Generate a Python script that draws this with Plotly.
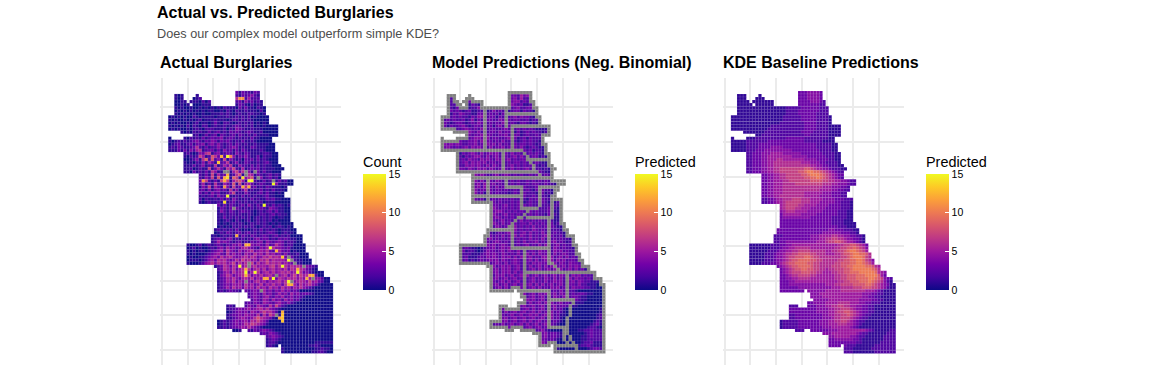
import plotly.graph_objects as go

W, H = 1152, 384
TITLE = "Actual vs. Predicted Burglaries"
SUBTITLE = "Does our complex model outperform simple KDE?"
PANEL_TITLES = ["Actual Burglaries", "Model Predictions (Neg. Binomial)", "KDE Baseline Predictions"]
LEGEND_TITLES = ["Count", "Predicted", "Predicted"]
COLORBAR_TICKS = [0, 5, 10, 15]
GRID_X = [-2.57, 5.86, 14.28, 22.7, 31.1, 39.6, 48.0]
GRID_Y = [4.75, 16.2, 27.6, 39.0, 50.4, 61.8, 73.1, 84.5]

# occupied fishnet columns in each row (row index = position in the list)
ROW_SPANS = [
 [(22,29)],[(2,4),(9,9),(22,29)],[(2,4),(8,10),(22,29)],[(2,5),(7,13),(22,30)],[(2,6),(8,13),(22,30)],
 [(2,31)],[(2,31)],[(2,31)],[(0,32)],[(0,32)],[(0,32)],[(0,35)],[(0,35)],[(4,35)],[(8,35)],
 [(0,0),(5,33)],[(0,33)],[(0,34)],[(0,34)],[(0,34)],[(5,35)],[(5,35)],[(5,35)],[(5,35)],[(5,36)],
 [(5,37)],[(5,36)],[(10,36)],[(10,36)],[(10,40)],[(10,40)],[(10,38)],[(10,38)],[(10,37)],[(10,37)],
 [(10,39)],[(10,39)],[(16,39)],[(16,39)],[(16,39)],[(16,39)],[(16,39)],[(16,39)],[(16,40)],[(16,40)],
 [(15,41)],[(15,41)],[(14,43)],[(14,43)],[(14,43)],[(6,44)],[(6,44)],[(6,44)],[(6,45)],[(6,45)],
 [(6,46)],[(6,46)],[(15,48)],[(16,48)],[(16,50)],[(16,50)],[(16,52)],[(16,52)],[(16,53)],[(16,53)],
 [(16,23),(25,53)],[(26,53)],[(26,53)],[(27,53)],[(25,53)],[(19,21),(25,53)],[(19,53)],[(19,53)],[(19,53)],[(19,53)],
 [(16,53)],[(16,53)],[(16,53)],[(21,23),(26,53)],[(30,53)],[(32,53)],[(32,53)],[(32,53)],[(32,35),(37,53)],[(37,53)],[(37,53)],
]

KDE = [
 "33344443","111133344443","11111133344443","11111111111333344432","11111111111333333322",
 "111111111111111122222333333222","111111111111111122223333333222","111111111111111122223333332222",
 "111111111111111112222223333322221","111111111111111112222223333322221","111111111111111122222222333322221",
 "111111111111122222222222333322221111","111111111111222222222222333322221111","11111112222222222223333222221111",
 "1122222222222222332222221111","111122222222223333332222222211","1111122222223333333333332222221111",
 "11111222233333333333333333332222211","11111222233334444333333333332222211","11111222333444444444333333333222211",
 "2233344455554444443333333222211","2233344555555554444433333322211","2233344555665555555444433332211",
 "2233344556666666665554443322221","22333445566666666666655443322211","223334455667777777788765544322211",
 "22333445566777777889aa9987654322","3344556677777889aaa98765433","334455667777778899a98765432",
 "3344555667777777888877665544322","3344555666677777777766655444322","33445556666666666666555444332",
 "33445556666666666665555443322","3344555666666655555544433322","3344556666666655555444433322",
 "223345566677766655554444333222","223345567777766655544444332221","567777665555444433332221",
 "567776655544444333332221","456665555444443333322211","355555544444333333322211","344444444433333332222211",
 "333333333333333332222111","3333333333333333322221111","3333333333333333333222111",
 "333333333333333334433322211","333333333333333444444333221","222333333333444555566554433221",
 "223333333333444556677665443321","223344444444445556778876554321",
 "111111122233445555555555555556677887653","111111122234455666665555555566778898764","111111222344556677776666655667789aa9875",
 "1111122234456677888877666555667889aa9986","1111122234456778889987766666667789aaa976",
 "11111222344567889999887766666778899aa9764","11112223345678899998877666667788899aa9875",
 "3456788999987766667778899aaaa99865","345678899887766566777889aaaaaa986","34567778887766555667788999aaaaa9654",
 "3345667777665555556677888999aaaa853","33445566665555555566778889999aa987432","33344555555555555556677888999a9876421",
 "33344444444444455566777788889987654311","33333344444444444555666677788877654211",
 "3333333344444455555666666665554321111","4445555555555555544433221111","4444555555555555544332211111",
 "444445555555555444433221111","33444455556666555443322211111","22233344455667766554433221111111",
 "33333333344445566777654433221111111","33333333344445567788765433221111111","22333333333445566778765432211111111",
 "22333333333444566777654322111111111","12222233333334445566776543221111111111","12222233333334445556665543211111111111",
 "12222233333333444555555432111111111111","2223333334445555555554321111122","444555555554322111111222",
 "4455555443221111112222","3344444433211111112222","3333333332211111122222","333332221111112222222",
 "22211111122222222","22211111112222222",
]

MODEL = [
 "23434453","232243325342","221124334252","12222134322134423234","12231213211243231123",
 "221322312241121232412234223312","132321231122312423231233132213","213243221133223231324213242322",
 "224232322132442233132323424332111","123232231241322332243132332231221","232123321232431232324223213321211",
 "231322342123323231342234232132221111","123232234323242233223423232323211111","22332432423233242332131232322122",
 "2323342332233422331232232211","2323223443242332234231231322","2334243223342433323242242123232211",
 "34343432233423343424232232332321211","43432323424343324233423232421232111","34232342323234323232332232232312211",
 "2132343242343423324232423232112","2213234432423424323424232331211","1232433243432432342323322321211",
 "2234243434233233232332323232111","32243434324243232342323233212111","233243243424323432423234232212111",
 "22342434342332433232323322132111","34343223423432323223232232322","23424432323232323323232232311",
 "3424233243242323223232323231211","2342423423232323223233223221211","33424232423232232322232232211",
 "24233232332322323232132322121","3423123232221232232221231211","3242322323232232132232322111",
 "232312232323232232132323221211","132112232322232321232223211121","233234232323232232223221",
 "243233232323232322232211","234432323232232322232111","343234232323232322132211","234323232322322312232111",
 "232342323242323232222111","2432423232332423232231211","1243232342323242323232111",
 "112323232423232432323222111","221232342323424232423232211","223232423342432423234232231121",
 "234232323423232423242423232211","232343232423242334232434232121",
 "122231112434234324232342324243234232211","123211012334234343423233242324243232211","231221012433234243242423324334243423221",
 "1222111234343243232423424243342423432221","2231112324343243424243342324434234242321",
 "22312123234342432343243424234342434233221","23211223242343242343243243433424243243321",
 "2342343423423242342424233424343221","234243423424234242342434234242311","23424342423423424234243424324332111",
 "2243423423424234234234243424342322111","23423423423423423243242423424332321111","23234242342423423242343423342432211110",
 "23423423423234242423423424332422111000","22342423423423424232434234243332211000",
 "2332342342423423424232423221000","3423424342342434232332110000","2423423424243243233211000000",
 "243423423424234323211000000","23424234243423423231110000000","232234234234243423321110000000",
 "23242342342423423242310000000000011","22423423423424232423210000000000012","23234234234342342423110000000000121",
 "23423423423423423423100000000000121","1232342342342423423423210000000000121","1232423423424234234232100000000001231",
 "2323423423423423423321000000000012210","2323423423421000000000112232","332342332100000001232",
 "2342332100000011232","2332321000000011222","2432210000000012231","232210000000122321",
 "11000000000123321","10000000001223221",
]

ACTUAL = [
 "31322132","101121323421","101012623252","00111110202231423121","00101000111132102011",
 "101001001010101021110313110210","010101010101100102102112111020","101010100100111212101211221101",
 "010101002101111011121121212010000","101001010120111211101221212100000","010100101201101310221012121201010",
 "101010202102201211211232121201010000","010100101210222111202143211211100000","10102121131231213232123211200000",
 "1201312303212313212131111000","0102121312323412321212131100","10121212342132431323212131121000",
 "01231123133413424212313212112111100","12132112362131224212343121132111000","11131314256123313142313132111121000",
 "1210143671341232142132111122100","1021275128631212413242113021100","0012416928241714212032313121000",
 "1010214153152361241132112123100","11131241216125361142213131211000","112012117136316472151232312111000",
 "11031213164112815736141231311000","21317152311268176513212312110","2142718253197134681241231201",
 "3172131727157851762113124131200","2513162153281714531232112411100","14271531241723461231213211101",
 "23141342316241361211312131110","3131423112471214211231311010","1212314225112131212112311000",
 "202112131314211213121132311000","101211213123121211212011100","313132123142131121312101",
 "132131321212123214321100","142132123221012123131100","112122121121012212312110","113121212120121212101100",
 "101210210120121212010000","1010121210121212101010000","0101021212121012120121010",
 "121212131010121312121011100","012132123123121212321012110","110121212132132123212312120000",
 "123213412121213423312132321100","125343212312132341432343122100",
 "100120121232132435232434325236431220000","012010012134253423564321435364432310000","101011012345264325345634546324532301000",
 "1010001234532635342543645364534242112000","0100112345364564345646534657565432311000",
 "01110124536564346475645365746555434211000","10001245646564573646573645756564543311000",
 "1236536464655645546746564656564321","236546356463564635645463656653210","12453645653546356464565645763421000",
 "1346534564635464564645635747564320000","1235464356463545646365465646465644200000","12354635464356453545646354565474532000",
 "12343545364534635464536465364564310000","12353645364536453645364535464321000000",
 "1212322132343253424353423200000","2343253423534253423321000000","2343245324352342321000000000",
 "243254253425342310000000000","23243254324532421000000000000","121243254326374210000000000000",
 "12234345345646432100000000000000000","01234342543575642000000000000000000","12334354436263753100000000000000000",
 "1123454346865431000000000000000000","01212343453657542000000000000000000000","01212343465765431000000000000000000000",
 "1121233454643210000000000000000000000","0012132343210000000000000000","232432100000000000000",
 "2343210000000000000","1232100000000000000","1221000000000000111","121000000000011210",
 "10000000000112110","10000000001122100",
]

# cells that stand out from the row strings: (row, column, count)
ACTUAL_HOT = [
 (2,23,11),(2,24,11),(21,19,15),(21,17,12),(21,20,10),(23,16,13),(29,26,15),(29,27,15),(28,19,14),(28,24,14),(30,34,15),
 (34,19,15),(36,18,14),(37,31,15),(28,18,12),(29,18,12),(27,19,12),(31,24,12),(31,26,12),(29,11,11),(31,18,11),
 (47,22,12),(51,33,15),(57,23,15),(59,25,15),(59,28,15),(61,34,15),(57,37,15),(55,39,15),(59,42,15),(62,39,15),(61,47,15),
 (50,25,12),(50,26,12),(60,25,12),(58,25,12),(54,37,13),(52,35,12),(58,42,12),(60,47,12),(60,46,12),(61,45,12),
 (61,31,12),(61,32,12),(63,40,12),(63,39,12),(72,37,12),(73,37,13),(74,37,13),(75,37,13),(74,36,12),
]
# grey (missing / above scale) cells of the actual panel: (row, column)
ACTUAL_NA = [(26,18),(26,19),(26,25),(26,28),(27,25),(28,29),(29,34),(38,21),(57,26),(60,35),(62,25),(65,30),
             (55,40),(56,41),(54,39),(62,40),(57,44),(61,47),(73,35),(56,26)]

# neighbourhood boundaries of the model panel: runs of missing cells, (col, row) to (col, row)
MODEL_NA_RUNS = [
 ((0,19),(26,19)),((14,6),(14,19)),((21,5),(21,11)),((21,7),(31,7)),((23,11),(34,11)),((23,11),(23,19)),
 ((26,19),(32,27)),((28,22),(35,22)),((20,20),(20,26)),((5,26),(31,26)),((10,28),(38,28)),((15,28),(15,36)),((21,28),(21,31)),
 ((11,34),(25,34)),((21,31),(26,31)),((26,31),(26,38)),((26,38),(31,38)),((32,31),(32,37)),((32,31),(37,31)),((36,34),(36,41)),
 ((29,38),(22,44)),((35,41),(35,56)),((28,41),(35,41)),((15,45),(22,45)),((23,44),(23,51)),((23,51),(35,51)),((27,51),(27,64)),((27,59),(48,59)),
 ((26,65),(35,65)),((35,65),(35,77)),((35,68),(43,68)),((43,68),(41,75)),((41,75),(41,79)),((41,79),(45,85)),((41,59),(41,68)),((35,55),(39,59)),
 ((35,77),(40,77)),((40,77),(40,81)),((40,81),(42,83)),((37,83),(43,83)),((22,45),(23,44)),
]

TEXT_PAD = 2.0
PITCH = 3.05
MARKER_SIZE = 3.25
PANEL_LEFT = [160.0, 432.4, 722.7]
PANEL_W = 181.0
PANEL_TOP, PANEL_BOTTOM = 78.0, 365.0
BAR_LEFT = [363.0, 635.0, 926.0]
BAR_TOP, BAR_BOTTOM = 175.0, 290.0
BAR_TITLE_SPACE = 22.0
GREY = "#7f7f7f"
GRID = "#ebebeb"
FONT = "Liberation Sans"
CELL_LINE = dict(width=0.2, color="rgba(255,255,255,0.5)")


def px(x):
    return x / W


def py(y):
    return 1 - y / H


def cells(rows, na=(), hot=()):
    """Turn the row strings into column/row/value lists following ROW_SPANS."""
    grid = {}
    for r, spans in enumerate(ROW_SPANS):
        cols = [c for a, b in spans for c in range(a, b + 1)]
        s = rows[r]
        for i, c in enumerate(cols):
            grid[(r, c)] = int(s[min(i, len(s) - 1)], 16)
    for r, c, v in hot:
        if (r, c) in grid:
            grid[(r, c)] = v
    missing = set(p for p in na if p in grid)
    xs, ys, vs = [], [], []
    gx, gy = [], []
    for (r, c), v in grid.items():
        if (r, c) in missing:
            gx.append(c); gy.append(r)
        else:
            xs.append(c); ys.append(r); vs.append(v)
    return xs, ys, vs, gx, gy


def model_missing():
    occupied = set((r, c) for r, spans in enumerate(ROW_SPANS) for a, b in spans for c in range(a, b + 1))
    na = set()
    for r, c in occupied:
        if any((r + dr, c + dc) not in occupied for dr in (-1, 0, 1) for dc in (-1, 0, 1)):
            na.add((r, c))
    for (c0, r0), (c1, r1) in MODEL_NA_RUNS:
        n = max(abs(c1 - c0), abs(r1 - r0), 1)
        for i in range(n + 1):
            na.add((round(r0 + (r1 - r0) * i / n), round(c0 + (c1 - c0) * i / n)))
    return na


panels = [cells(ACTUAL, ACTUAL_NA, ACTUAL_HOT), cells(MODEL, model_missing()), cells(KDE)]

fig = go.Figure()
ann = [
    dict(x=px(157 - TEXT_PAD), y=py(13), text=f"<b>{TITLE}</b>", font=dict(size=16, color="black", family=FONT)),
    dict(x=px(157 - TEXT_PAD), y=py(34), text=SUBTITLE, font=dict(size=12.7, color="#4d4d4d", family=FONT)),
]
for i in range(3):
    xs, ys, vs, gx, gy = panels[i]
    suffix = "" if i == 0 else str(i + 1)
    left = PANEL_LEFT[i]
    fig.add_trace(go.Scatter(
        x=xs, y=ys, mode="markers", xaxis=f"x{suffix}", yaxis=f"y{suffix}", showlegend=False, hoverinfo="skip",
        marker=dict(
            symbol="square", size=MARKER_SIZE, color=vs, cmin=0, cmax=15, colorscale="Plasma",
            line=CELL_LINE,
            colorbar=dict(
                x=px(BAR_LEFT[i]), xanchor="left", y=py(BAR_TOP - BAR_TITLE_SPACE), yanchor="top",
                len=(BAR_BOTTOM - BAR_TOP + BAR_TITLE_SPACE) / H,
                lenmode="fraction", thickness=23, thicknessmode="pixels", outlinewidth=0, xpad=0, ypad=0,
                tickvals=COLORBAR_TICKS, ticks="inside", ticklen=4, tickcolor="white", tickwidth=0.5,
                tickfont=dict(size=10.5, color="black", family=FONT),
                title=dict(text=LEGEND_TITLES[i], side="top", font=dict(size=14.4, color="black", family=FONT)),
            ),
        ),
    ))
    if gx:
        fig.add_trace(go.Scatter(
            x=gx, y=gy, mode="markers", xaxis=f"x{suffix}", yaxis=f"y{suffix}", showlegend=False, hoverinfo="skip",
            marker=dict(symbol="square", size=MARKER_SIZE, color=GREY, line=CELL_LINE),
        ))
    axis = dict(showticklabels=False, ticks="", showline=False, zeroline=False, showgrid=True,
                gridcolor=GRID, gridwidth=1.8, tickmode="array")
    fig.update_layout({
        f"xaxis{suffix}": dict(axis, domain=[px(left), px(left + PANEL_W)], tickvals=GRID_X, range=[-3.22, 56.12]),
        f"yaxis{suffix}": dict(axis, domain=[py(PANEL_BOTTOM), py(PANEL_TOP)], tickvals=GRID_Y, range=[89.33, -4.76],
                               anchor=f"x{suffix}"),
    })
    ann.append(dict(x=px(left - TEXT_PAD), y=py(62.5), text=f"<b>{PANEL_TITLES[i]}</b>",
                    font=dict(size=16, color="black", family=FONT)))

for a in ann:
    a.update(xref="paper", yref="paper", xanchor="left", yanchor="middle", showarrow=False)
fig.update_layout(width=W, height=H, margin=dict(l=0, r=0, t=0, b=0), paper_bgcolor="white", plot_bgcolor="white",
                  annotations=ann, font=dict(family=FONT))
fig.write_html("out.html", config={"displayModeBar": False}, post_script="document.body.style.margin='0';")
